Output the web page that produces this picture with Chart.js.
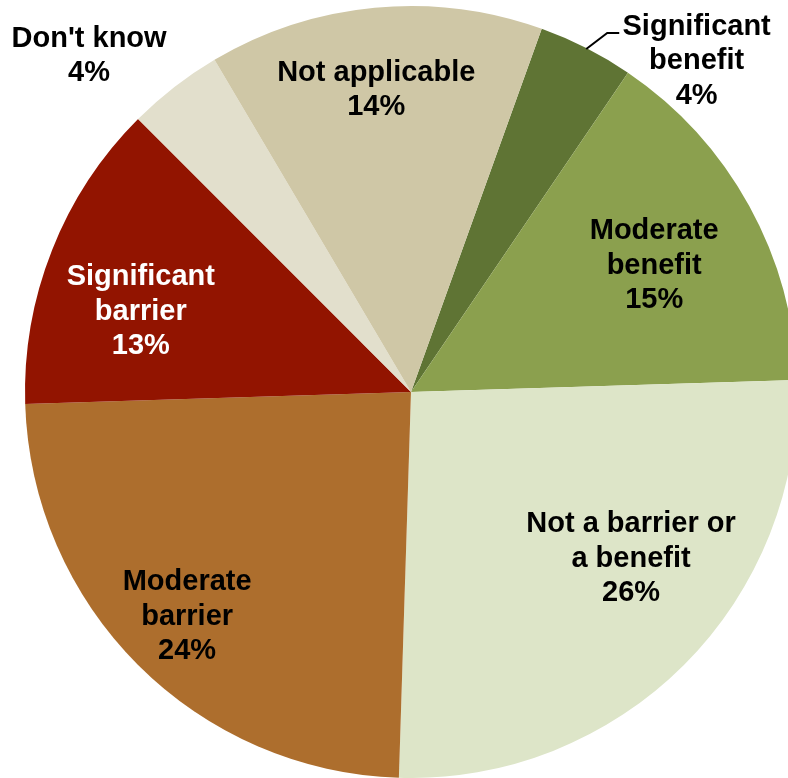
<!DOCTYPE html>
<html>
<head>
<meta charset="utf-8">
<script src="https://cdn.jsdelivr.net/npm/chart.js@4"></script>
<style>
    html, body { margin: 0; padding: 0; background: #fff; overflow: hidden; }
    #wrap { position: relative; width: 800px; height: 778px; }
</style>
</head>
<body>
<div id="wrap"><canvas id="pie"></canvas></div>
<script>
let labels = ['Significant benefit', 'Moderate benefit', 'Not a barrier or a benefit', 'Moderate barrier', 'Significant barrier', "Don't know", 'Not applicable'];
let values = [4, 15, 26, 24, 13, 4, 14];
let labelLines = [
    ['Significant', 'benefit'],
    ['Moderate', 'benefit'],
    ['Not a barrier or', 'a benefit'],
    ['Moderate', 'barrier'],
    ['Significant', 'barrier'],
    ["Don't know"],
    ['Not applicable']
];
let colors = ['#5f7434', '#8ba04e', '#dde5c8', '#ad6e2d', '#921400', '#e2dfcc', '#cfc7a6'];
let textColors = ['#000', '#000', '#000', '#000', '#fff', '#000', '#000'];

// where each label block sits, as offset from the pie centre (fractions of radius)
let labelSpots = [
    [0.74, -0.86], [0.63, -0.33], [0.57, 0.43], [-0.58, 0.58],
    [-0.70, -0.21], [-0.834, -0.873], [-0.09, -0.785]
];

// draws the percent labels, plus the leader line for the small top slice
const sliceLabels = {
    id: 'sliceLabels',
    afterDatasetsDraw(chart) {
        const ctx = chart.ctx;
        const arcs = chart.getDatasetMeta(0).data;
        const cx = arcs[0].x, cy = arcs[0].y, r = arcs[0].outerRadius;
        ctx.save();
        ctx.font = 'bold 29px "Liberation Sans", Arial, sans-serif';
        ctx.textAlign = 'center';
        ctx.textBaseline = 'middle';
        const lh = 34.5;
        for (let i = 0; i < values.length; i++) {
            const lines = [...labelLines[i], values[i] + '%'];
            const x = cx + labelSpots[i][0] * r;
            const y = cy + labelSpots[i][1] * r + 1;
            const top = y - (lines.length - 1) * lh / 2;
            ctx.fillStyle = textColors[i];
            lines.forEach((t, k) => ctx.fillText(t, x, top + k * lh));
        }
        // leader line for "Significant benefit"
        const a = (arcs[0].startAngle + arcs[0].endAngle) / 2;
        const px = cx + Math.cos(a) * r, py = cy + Math.sin(a) * r + 1;
        ctx.strokeStyle = '#000';
        ctx.lineWidth = 2;
        ctx.beginPath();
        ctx.moveTo(px, py);
        ctx.lineTo(px + 21, py - 16);
        ctx.lineTo(px + 33, py - 16);
        ctx.stroke();
        ctx.restore();
    }
};

const ctx = document.getElementById('pie').getContext('2d');
const chart = new Chart(ctx, {
    type: 'pie',
    data: {
        labels: labels,
        datasets: [{
            data: values,
            backgroundColor: colors,
            borderWidth: 0
        }]
    },
    options: {
        responsive: true,
        maintainAspectRatio: false,
        animation: false,
        rotation: 19.8,
        layout: { padding: { left: 25, right: 3, top: 6, bottom: 0 } },
        plugins: {
            legend: { display: false },
            tooltip: { enabled: false }
        }
    },
    plugins: [sliceLabels]
});
</script>
</body>
</html>
